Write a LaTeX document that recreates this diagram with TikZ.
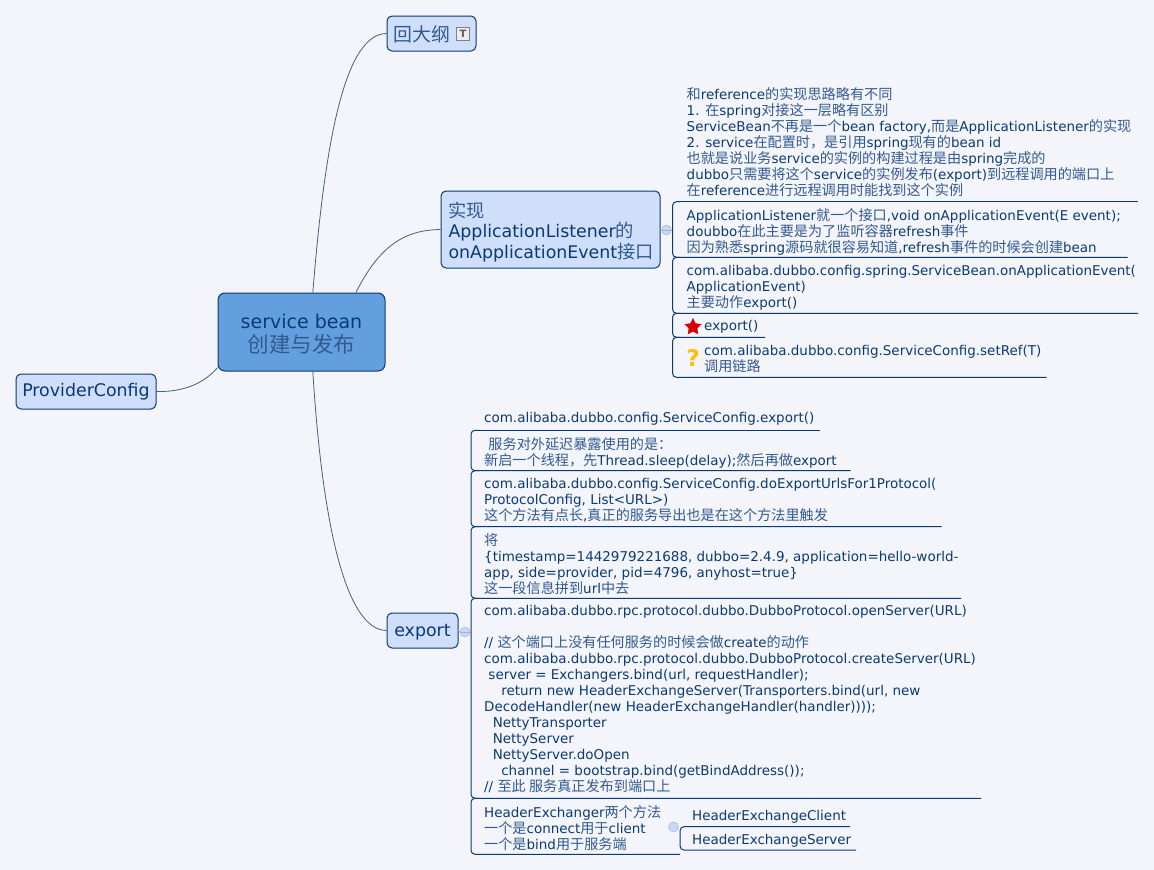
\documentclass[tikz,border=0pt]{standalone}
\usepackage{fontspec}
\setmainfont{DejaVu Sans}
\newfontfamily\cjk[Scale=1.05]{Noto Sans CJK SC}
\usepackage{xcolor}
\usetikzlibrary{shapes.geometric}
\definecolor{pagebg}{HTML}{F3F5FA}
\definecolor{rootfill}{HTML}{639FDE}
\definecolor{topicfill}{HTML}{CFDFFB}
\definecolor{inkblue}{HTML}{0B3A73}
\definecolor{zhblue}{HTML}{335A90}
\definecolor{linkgray}{HTML}{46607F}
\definecolor{foldfill}{HTML}{C9D7F0}
\definecolor{foldline}{HTML}{9DB4D6}
\def\zh#1{{\cjk\color{zhblue}#1}}
% one entry of a bracketed list: left x, top y, bottom y, right x
\def\Entry at (#1, #2) down (#3) to (#4); {
    \draw[entryline] (#1 + 8, #2) -- (#1, #2) -- (#1, #3) -- (#4, #3);
}
\tikzset{
    rootbox/.style={draw=inkblue, fill=rootfill, rounded corners=7, line width=1pt, align=center, text=inkblue, font=\fontsize{19}{24}\selectfont, inner sep=0pt},
    topicbox/.style={draw=inkblue, fill=topicfill, rounded corners=5, line width=1pt, text=inkblue, inner sep=0pt, font=\fontsize{17.4}{20.5}\selectfont},
    leaf/.style={anchor=west, align=left, inner sep=0pt, text=inkblue, font=\fontsize{13.47}{16}\selectfont},
    link/.style={draw=linkgray, line width=0.8pt},
    entryline/.style={draw=inkblue, line width=1pt, rounded corners=4},
    fold/.style={circle, draw=foldline, fill=foldfill, minimum size=10pt, inner sep=0pt, line width=0.4pt},
    foldlink/.style={draw=foldline, line width=0.8pt},
}
\begin{document}
\begin{tikzpicture}[x=1pt, y=-1pt]
    \useasboundingbox[fill=pagebg] (0, 0) rectangle (1154, 870);

    % topics
    \node[rootbox, minimum width=167pt, minimum height=78pt] (root) at (301.5, 332) {\rule{0pt}{19pt}service bean\\{\fontsize{20.5}{24}\selectfont\zh{创建与发布}}};
    \node[topicbox, minimum width=89pt, minimum height=35pt] (outline) at (431.5, 33.5) {};
    \node[anchor=west, inner sep=0pt, font=\fontsize{18}{20}\selectfont] (outlinetext) at (393, 34) {\zh{回大纲}};
    \node[draw=gray, fill=gray!15, minimum size=13pt, inner sep=0pt, font=\bfseries\fontsize{10}{10}\selectfont, text=gray!70!black] (noteicon) at (463, 34) {T};
    \node[topicbox, minimum width=140pt, minimum height=35pt] (provider) at (86, 391.5) {ProviderConfig};
    \node[topicbox, minimum width=219pt, minimum height=77pt, align=left, text width=204pt] (listener) at (550.5, 229.5) {\rule{0pt}{20pt}\zh{实现}\\ApplicationListener\zh{的}\\onApplicationEvent\zh{接口}};
    \node[topicbox, minimum width=71pt, minimum height=35pt] (export) at (422.5, 630.5) {\rule{0pt}{15.5pt}export};

    \draw[link] (root.74) .. controls (325, 140) and (345, 34) .. (outline.west);
    \draw[link] (root.36) .. controls (380, 245) and (405, 230) .. (listener.west);
    \draw[link] (root.203) .. controls (200, 388) and (175, 392) .. (provider.east);
    \draw[link] (root.-74) .. controls (322, 520) and (345, 630) .. (export.west);

    % listener list
    \node[fold] (foldA) at (666.5, 230) {};
    \draw[foldlink] (listener.east) -- (foldA.west);
    \draw[foldlink] (foldA.west) -- (foldA.east);
    \draw[foldlink] (foldA.east) -- (672.5, 230);
    \draw[entryline] (1138, 201.7) -- (680, 201.7);
    \Entry at (672.5, 201.7) down (257.3) to (1127.7);
    \Entry at (672.5, 257.3) down (313.3) to (1138);
    \Entry at (672.5, 313.3) down (337.3) to (765);
    \Entry at (672.5, 337.3) down (377.3) to (1046.7);
    \node[leaf] (noteA) at (686.5, 142.2) {\zh{和}reference\zh{的实现思路略有不同}\\1. \zh{在}spring\zh{对接这一层略有区别}\\ServiceBean\zh{不再是一个}bean factory,\zh{而是}ApplicationListener\zh{的实现}\\2. service\zh{在配置时，是引用}spring\zh{现有的}bean id\\\zh{也就是说业务}service\zh{的实例的构建过程是由}spring\zh{完成的}\\dubbo\zh{只需要将这个}service\zh{的实例发布}(export)\zh{到远程调用的端口上}\\\zh{在}reference\zh{进行远程调用时能找到这个实例}};
    \node[leaf] (noteB) at (686.5, 232) {ApplicationListener\zh{就一个接口},void onApplicationEvent(E event);\\doubbo\zh{在此主要是为了监听容器}refresh\zh{事件}\\\zh{因为熟悉}spring\zh{源码就很容易知道},refresh\zh{事件的时候会创建}bean};
    \node[leaf] (noteC) at (686.5, 288) {com.alibaba.dubbo.config.spring.ServiceBean.onApplicationEvent(\\ApplicationEvent)\\\zh{主要动作}export()};
    \node[star, star points=5, star point ratio=2, fill=red!85!black, draw=red!80!black, minimum size=17pt, inner sep=0pt] (staricon) at (693, 327) {};
    \node[leaf] (noteD) at (704, 327) {export()};
    \node[inner sep=0pt, text=orange!50!yellow, font=\bfseries\fontsize{23}{23}\selectfont] (askicon) at (693, 358) {?};
    \node[leaf] (noteE) at (704, 359) {com.alibaba.dubbo.config.ServiceConfig.setRef(T)\\\zh{调用链路}};

    % export list
    \node[fold] (foldB) at (465, 632) {};
    \draw[foldlink] (export.east) -- (foldB.west);
    \draw[foldlink] (foldB.west) -- (foldB.east);
    \draw[foldlink] (foldB.east) -- (471, 632);
    \draw[entryline] (820, 430.3) -- (479, 430.3);
    \Entry at (471, 430.3) down (470.7) to (850.5);
    \Entry at (471, 470.7) down (526.7) to (941.5);
    \Entry at (471, 526.7) down (598.3) to (961);
    \Entry at (471, 598.3) down (798.3) to (981);
    \Entry at (471, 798.3) down (854.3) to (680);
    \node[leaf] (codeA) at (484, 419) {com.alibaba.dubbo.config.ServiceConfig.export()};
    \node[leaf] (codeB) at (484, 452.5) {\ \zh{服务对外延迟暴露使用的是：}\\\zh{新启一个线程，先}Thread.sleep(delay);\zh{然后再做}export};
    \node[leaf] (codeC) at (484, 500) {com.alibaba.dubbo.config.ServiceConfig.doExportUrlsFor1Protocol(\\ProtocolConfig, List<URL>)\\\zh{这个方法有点长},\zh{真正的服务导出也是在这个方法里触发}};
    \node[leaf] (codeD) at (484, 564.5) {\zh{将}\\\{timestamp=1442979221688, dubbo=2.4.9, application=hello-world-\\app, side=provider, pid=4796, anyhost=true\}\\\zh{这一段信息拼到}url\zh{中去}};
    \node[leaf] (codeE) at (484, 698.5) {com.alibaba.dubbo.rpc.protocol.dubbo.DubboProtocol.openServer(URL)\\[16pt]// \zh{这个端口上没有任何服务的时候会做}create\zh{的动作}\\com.alibaba.dubbo.rpc.protocol.dubbo.DubboProtocol.createServer(URL)\\\ server = Exchangers.bind(url, requestHandler);\\\ \ \ \ return new HeaderExchangeServer(Transporters.bind(url, new\\DecodeHandler(new HeaderExchangeHandler(handler))));\\\ \ NettyTransporter\\\ \ NettyServer\\\ \ NettyServer.doOpen\\\ \ \ \ channel = bootstrap.bind(getBindAddress());\\// \zh{至此 服务真正发布到端口上}};
    \node[leaf] (codeF) at (484, 828) {HeaderExchanger\zh{两个方法}\\\zh{一个是}connect\zh{用于}client\\\zh{一个是}bind\zh{用于服务端}};

    % header exchanger children
    \node[fold] (foldC) at (673.5, 827) {};
    \draw[entryline] (850, 826.7) -- (680, 826.7) -- (680, 850) -- (856, 850);
    \node[leaf] (clientA) at (692, 816.5) {HeaderExchangeClient};
    \node[leaf] (serverA) at (692, 840.5) {HeaderExchangeServer};
\end{tikzpicture}
\end{document}
